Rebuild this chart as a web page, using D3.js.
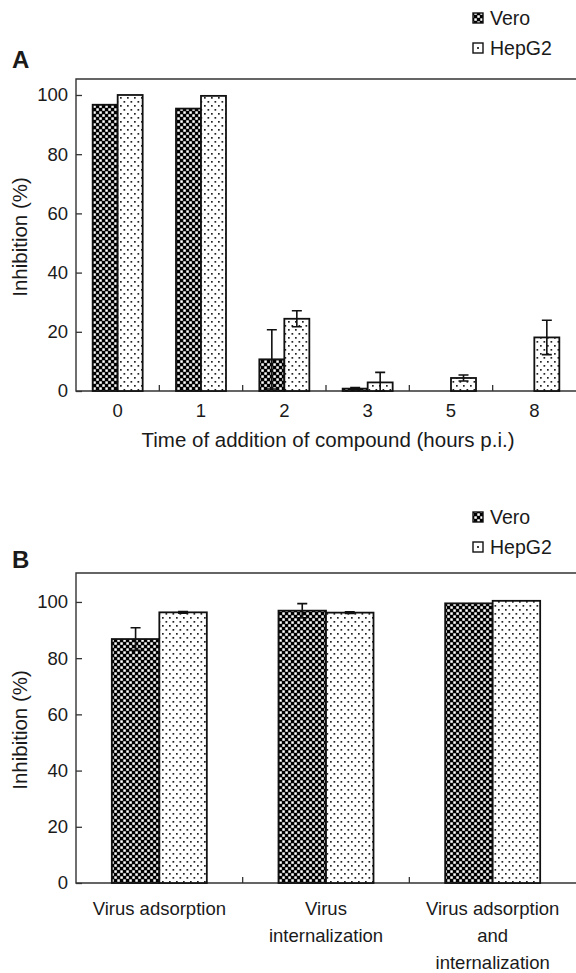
<!DOCTYPE html>
<html>
<head>
<meta charset="utf-8">
<script src="https://cdn.jsdelivr.net/npm/d3@7"></script>
<style>
  html, body { margin: 0; padding: 0; background: #fff; }
  svg { display: block; }
  text { font-family: "Liberation Sans", Arial, sans-serif; fill: #1a1a1a; }
</style>
</head>
<body>
<svg id="chart"></svg>
<script>
// data
let seriesNames = ['Vero', 'HepG2'];
let yTicks = [0, 20, 40, 60, 80, 100];

// panel A: time of addition
let timeCats = ['0', '1', '2', '3', '5', '8'];
let veroA = [96.7, 95.4, 10.7, 0.8, 0, 0];
let veroAErr = [0, 0, 10, 0.4, 0, 0];
let hepA = [100, 99.7, 24.4, 2.9, 4.4, 18.1];
let hepAErr = [0, 0, 2.7, 3.4, 1.0, 5.8];

// panel B: virus steps
let stepCats = ['Virus adsorption', 'Virus internalization', 'Virus adsorption and internalization'];
let stepLabels = [['Virus adsorption'], ['Virus', 'internalization'], ['Virus adsorption', 'and', 'internalization']];
let veroB = [86.8, 96.9, 99.5];
let veroBErr = [4, 2.5, 0];
let hepB = [96.3, 96.2, 100.4];
let hepBErr = [0.3, 0.3, 0];

let width = 576;
let height = 973;

let svg = d3.select('#chart').attr('width', width).attr('height', height);

let defs = svg.append('defs');

// checkerboard for Vero (black dominant)
let chk = defs.append('pattern')
  .attr('id', 'checker')
  .attr('patternUnits', 'userSpaceOnUse')
  .attr('width', 6).attr('height', 6);
chk.append('rect').attr('width', 6).attr('height', 6).attr('fill', '#000');
chk.append('rect').attr('x', 0.3).attr('y', 0.3).attr('width', 2.5).attr('height', 2.5).attr('fill', '#fff');
chk.append('rect').attr('x', 3.3).attr('y', 3.3).attr('width', 2.5).attr('height', 2.5).attr('fill', '#fff');

// sparse dots for HepG2
let dots = defs.append('pattern')
  .attr('id', 'dots')
  .attr('patternUnits', 'userSpaceOnUse')
  .attr('width', 7).attr('height', 8);
dots.append('rect').attr('width', 7).attr('height', 8).attr('fill', '#fff');
dots.append('rect').attr('x', 1).attr('y', 1).attr('width', 1.7).attr('height', 1.7).attr('fill', '#222');
dots.append('rect').attr('x', 4.5).attr('y', 5).attr('width', 1.7).attr('height', 1.7).attr('fill', '#222');

let fills = ['url(#checker)', 'url(#dots)'];

let drawPanel = (p) => {
  let g = svg.append('g');

  let xScale = d3.scaleBand()
    .domain(p.cats)
    .range([p.left, p.right])
    .paddingInner(p.pad)
    .paddingOuter(p.pad / 2);

  let subScale = d3.scaleBand()
    .domain(seriesNames)
    .range([0, xScale.bandwidth()]);

  let yScale = d3.scaleLinear()
    .domain([0, p.yMax])
    .range([p.bottom, p.top]);

  // frame (right side runs off the page like the original)
  g.append('path')
    .attr('d', 'M' + (width + 5) + ',' + p.top + 'H' + p.left + 'V' + p.bottom + 'H' + (width + 5))
    .attr('fill', 'none')
    .attr('stroke', '#333')
    .attr('stroke-width', 1.4);

  // y axis with inward ticks
  let yAxis = d3.axisLeft(yScale)
    .tickValues(yTicks)
    .tickSizeInner(-6)
    .tickSizeOuter(0)
    .tickPadding(8);

  let ya = g.append('g')
    .attr('transform', 'translate(' + p.left + ',0)')
    .call(yAxis);
  ya.select('.domain').remove();
  ya.selectAll('line').attr('stroke', '#333').attr('stroke-width', 1.3);
  ya.selectAll('text')
    .attr('font-size', 18.5)
    .style('font-family', '"Liberation Sans", Arial, sans-serif')
    .attr('fill', '#1a1a1a');

  // small inward ticks between categories
  g.selectAll('.xtick')
    .data(p.cats.slice(1))
    .enter()
    .append('line')
    .attr('class', 'xtick')
    .attr('x1', (d) => xScale(d) - xScale.step() * p.pad / 2)
    .attr('x2', (d) => xScale(d) - xScale.step() * p.pad / 2)
    .attr('y1', p.bottom)
    .attr('y2', p.bottom - 6)
    .attr('stroke', '#333')
    .attr('stroke-width', 1.3);

  // bars
  let rows = [];
  p.cats.forEach((c, i) => {
    rows.push({ cat: c, s: 0, v: p.vero[i], e: p.veroErr[i] });
    rows.push({ cat: c, s: 1, v: p.hep[i], e: p.hepErr[i] });
  });

  g.selectAll('.bar')
    .data(rows)
    .enter()
    .append('rect')
    .attr('class', 'bar')
    .attr('x', (d) => xScale(d.cat) + subScale(seriesNames[d.s]))
    .attr('width', subScale.bandwidth())
    .attr('y', (d) => yScale(d.v))
    .attr('height', (d) => yScale(0) - yScale(d.v))
    .attr('fill', (d) => fills[d.s])
    .attr('stroke', '#111')
    .attr('stroke-width', 1.8);

  // error bars
  let errs = rows.filter((d) => d.e > 0);
  let cx = (d) => xScale(d.cat) + subScale(seriesNames[d.s]) + subScale.bandwidth() / 2;

  g.selectAll('.err')
    .data(errs)
    .enter()
    .append('path')
    .attr('class', 'err')
    .attr('d', (d) => {
      let x = cx(d);
      let y1 = yScale(d.v + d.e);
      let y0 = yScale(Math.max(0, d.v - d.e));
      return 'M' + (x - 5) + ',' + y1 + 'H' + (x + 5) + 'M' + x + ',' + y1 + 'V' + y0 + 'M' + (x - 5) + ',' + y0 + 'H' + (x + 5);
    })
    .attr('fill', 'none')
    .attr('stroke', '#111')
    .attr('stroke-width', 1.6);

  // category labels
  p.labels.forEach((lines, i) => {
    let x = xScale(p.cats[i]) + xScale.bandwidth() / 2;
    lines.forEach((line, j) => {
      g.append('text')
        .attr('x', x)
        .attr('y', p.labelY + j * p.lineGap)
        .attr('text-anchor', 'middle')
        .attr('font-size', p.labelSize)
        .text(line);
    });
  });

  // y title
  g.append('text')
    .attr('transform', 'translate(27,' + ((p.top + p.bottom) / 2 + 2) + ') rotate(-90)')
    .attr('text-anchor', 'middle')
    .attr('font-size', 20.5)
    .text('Inhibition (%)');

  // panel letter
  g.append('text')
    .attr('x', 12)
    .attr('y', p.letterY)
    .attr('font-size', 24)
    .attr('font-weight', 'bold')
    .attr('fill', '#000')
    .text(p.letter);

  // legend
  seriesNames.forEach((name, i) => {
    let ly = p.legendY + i * 30;
    g.append('rect')
      .attr('x', 473)
      .attr('y', ly - 5)
      .attr('width', 10)
      .attr('height', 10)
      .attr('fill', i === 0 ? 'url(#checker)' : '#fff')
      .attr('stroke', '#111')
      .attr('stroke-width', 1.4);
    if (i === 1) {
      g.append('rect')
        .attr('x', 477.1).attr('y', ly - 0.9)
        .attr('width', 1.8).attr('height', 1.8)
        .attr('fill', '#111');
    }
    g.append('text')
      .attr('x', 490)
      .attr('y', ly)
      .attr('dy', '0.35em')
      .attr('font-size', 19.5)
      .text(name);
  });

  return g;
};

let gA = drawPanel({
  letter: 'A', letterY: 68,
  legendY: 18,
  cats: timeCats, labels: timeCats.map((c) => [c]),
  vero: veroA, veroErr: veroAErr, hep: hepA, hepErr: hepAErr,
  left: 76, right: 576, top: 79, bottom: 391, yMax: 105.4,
  pad: 0.4, labelY: 417, lineGap: 28, labelSize: 18.5
});

gA.append('text')
  .attr('x', 328)
  .attr('y', 447)
  .attr('text-anchor', 'middle')
  .attr('font-size', 20.5)
  .text('Time of addition of compound (hours p.i.)');

drawPanel({
  letter: 'B', letterY: 568,
  legendY: 517,
  cats: stepCats, labels: stepLabels,
  vero: veroB, veroErr: veroBErr, hep: hepB, hepErr: hepBErr,
  left: 76, right: 576, top: 573, bottom: 883, yMax: 110.3,
  pad: 0.43, labelY: 915, lineGap: 27, labelSize: 18.5
});
</script>
</body>
</html>
